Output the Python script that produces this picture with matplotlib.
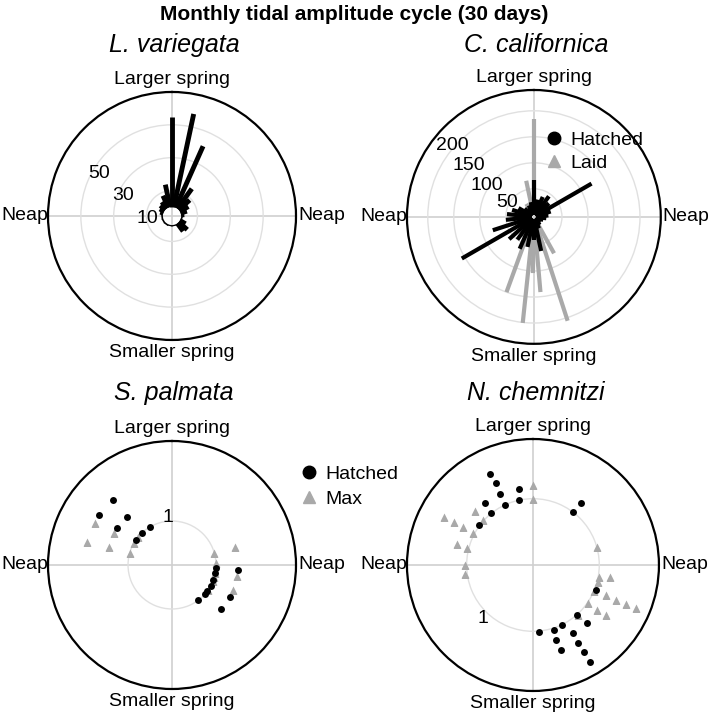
import matplotlib.pyplot as plt
import numpy as np
from matplotlib.lines import Line2D

plt.rcParams['font.family'] = ['Liberation Sans', 'DejaVu Sans']

# ---- data (angle in degrees, clockwise from "Larger spring") ----
day_deg = np.arange(30) * 12

# L. variegata: hatched per day
lv_counts = [55, 58, 41, 15, 9, 6, 4, 2, 0, 1, 4, 7, 6, 0, 0.8,
             0, 0.8, 0, 1, 0, 1, 0, 1, 0, 2, 3, 4, 5, 8, 14]

# C. californica
cc_hatched = [67, 30, 38, 45, 35, 124, 30, 24, 20, 15, 12, 10, 15, 20, 63,
              40, 55, 63, 50, 60, 156, 79, 50, 48, 40, 30, 20, 15, 20, 25]
cc_laid_deg = [0, 348, 12, 24, 36, 60, 90, 120, 151, 162, 175, 181, 186, 200,
               212, 230, 260, 300, 330]
cc_laid_n = [185, 67, 25, 15, 12, 10, 8, 10, 76, 206, 141, 104, 201, 150,
             40, 30, 20, 15, 25]

# S. palmata
sp_hatched_deg = [317.5, 304.3, 317, 304.2, 329.8, 317.2, 304.3, 94, 100, 110,
                  118.7, 126.3, 132, 143.7, 94.3, 118.8, 131.7]
sp_hatched_r = [2.0, 2.0, 1.5, 1.5, 1.0, 1.0, 1.0, 1.0, 1.0, 1.0,
                1.0, 1.0, 1.0, 1.0, 1.5, 1.5, 1.5]
sp_max_deg = [298.7, 285.4, 299, 286, 299.7, 286.2, 310, 74.7, 74, 88, 99.5,
              100.6, 112.3, 112, 125, 106]
sp_max_r = [2.0, 2.0, 1.5, 1.5, 1.0, 1.0, 1.0, 1.0, 1.5, 1.0, 1.5,
            1.0, 1.5, 1.0, 1.0, 1.0]

# N. chemnitzi
nc_hatched_deg = [335, 335.6, 335.3, 322.3, 320.7, 335, 349.3, 347.6, 306.9,
                  37.7, 37.4, 175.1, 161.9, 154.2, 162.6, 162, 149.4, 149.9,
                  149.5, 149.5, 137, 138.4, 111.9]
nc_hatched_r = [1.52, 1.35, 1.18, 1.18, 1.01, 1.0, 1.17, 1.01, 1.01,
                1.18, 1.0, 1.02, 1.03, 1.01, 1.18, 1.35, 1.19, 1.36,
                1.52, 1.70, 1.19, 1.01, 1.02]
nc_max_deg = [0, 0, 313, 312, 298.5, 298.7, 298.5, 285.5, 284.4, 270, 262,
              298, 74.1, 100, 99.1, 104.4, 112.5, 112.5, 112.5, 112.6, 113,
              124.9, 124.7, 124.3, 138]
nc_max_r = [1.2, 1.0, 1.2, 1.02, 1.2, 1.36, 1.53, 1.19, 1.02, 1.02, 1.03,
            1.02, 1.01, 1.01, 1.18, 1.02, 1.19, 1.36, 1.52, 1.69, 1.0,
            1.01, 1.18, 1.34, 1.01]

GREY = '#a9a9a9'

fig = plt.figure(figsize=(7.09, 7.18), dpi=100)


def make_polar(rect, rlim, rings):
    ax = fig.add_axes(rect, projection='polar')
    ax.set_theta_zero_location('N')
    ax.set_theta_direction(-1)
    ax.set_ylim(*rlim)
    ax.set_xticks(np.radians([0, 90, 180, 270]))
    ax.set_xticklabels([])
    ax.set_yticks(rings)
    ax.set_yticklabels([])
    ax.yaxis.grid(True, color='#e0e0e0', lw=1)
    ax.xaxis.grid(True, color='#d0d0d0', lw=1.2)
    ax.spines['polar'].set_linewidth(1.6)
    kw = dict(xycoords='axes fraction', textcoords='offset points', fontsize=14)
    ax.annotate('Larger spring', xy=(0.5, 1), xytext=(0, 3), ha='center', va='bottom', **kw)
    ax.annotate('Smaller spring', xy=(0.5, 0), xytext=(0, -3), ha='center', va='top', **kw)
    ax.annotate('Neap', xy=(0, 0.5), xytext=(0.5, 0), ha='right', va='center', **kw)
    ax.annotate('Neap', xy=(1, 0.5), xytext=(1.5, 0), ha='left', va='center', **kw)
    return ax


# L. variegata
ax1 = make_polar([0.0677, 0.5265, 0.3498, 0.3454], (-5.5, 70), [10, 30, 50])
ax1.vlines(np.radians(day_deg), 0, lv_counts, color='black', lw=3.5)
for lab, ang, rr in [('10', 265, 9.5), ('30', 293, 27), ('50', 300, 46)]:
    ax1.text(np.radians(ang), rr, lab, ha='center', va='center', fontsize=14)

# C. californica
ax2 = make_polar([0.574, 0.521, 0.358, 0.3538], (-4, 240), [50, 100, 150, 200])
ax2.vlines(np.radians(cc_laid_deg), 0, cc_laid_n, color=GREY, lw=3)
ax2.vlines(np.radians(day_deg), 0, cc_hatched, color='black', lw=3)
for lab, ang, rr in [('50', 299, 54), ('100', 304, 105), ('150', 308.6, 155), ('200', 311, 204)]:
    ax2.text(np.radians(ang), rr, lab, ha='center', va='center', fontsize=14)

# S. palmata
ax3 = make_polar([0.0677, 0.0404, 0.3498, 0.3454], (0, 2.82), [1])
ax3.plot(np.radians(sp_max_deg), sp_max_r, '^', color=GREY, ms=5.5, mec='none')
ax3.plot(np.radians(sp_hatched_deg), sp_hatched_r, 'o', color='black', ms=5, mec='none')
ax3.text(np.radians(355), 1.09, '1', ha='center', va='center', fontsize=14)

# N. chemnitzi
ax4 = make_polar([0.574, 0.0376, 0.3554, 0.351], (0, 1.9), [1])
ax4.plot(np.radians(nc_max_deg), nc_max_r, '^', color=GREY, ms=5.5, mec='none')
ax4.plot(np.radians(nc_hatched_deg), nc_hatched_r, 'o', color='black', ms=5, mec='none')
ax4.text(np.radians(223), 1.11, '1', ha='center', va='center', fontsize=14)

# titles
fig.text(0.5, 1 - 15 / 718, 'Monthly tidal amplitude cycle (30 days)',
         ha='center', va='center', fontsize=15, fontweight='bold')
for x, y, name in [(174, 45, 'L. variegata'), (536, 45, 'C. californica'),
                   (174, 393, 'S. palmata'), (536, 393, 'N. chemnitzi')]:
    fig.text(x / 709, 1 - y / 718, name, ha='center', va='center',
             fontsize=18, style='italic')

# legends
h_dot = Line2D([], [], ls='none', marker='o', color='black', ms=9)
h_tri = Line2D([], [], ls='none', marker='^', color=GREY, ms=9)
fig.legend([h_dot, h_tri], ['Hatched', 'Laid'], loc='upper left',
           bbox_to_anchor=(544 / 709, 1 - 131 / 718), frameon=False, fontsize=14,
           handlelength=1, handletextpad=0.35, labelspacing=0.3, borderpad=0,
           borderaxespad=0)
fig.legend([h_dot, h_tri], ['Hatched', 'Max'], loc='upper left',
           bbox_to_anchor=(299 / 709, 1 - 465 / 718), frameon=False, fontsize=14,
           handlelength=1, handletextpad=0.35, labelspacing=0.4, borderpad=0,
           borderaxespad=0)

fig.savefig('out.png', dpi=100)
